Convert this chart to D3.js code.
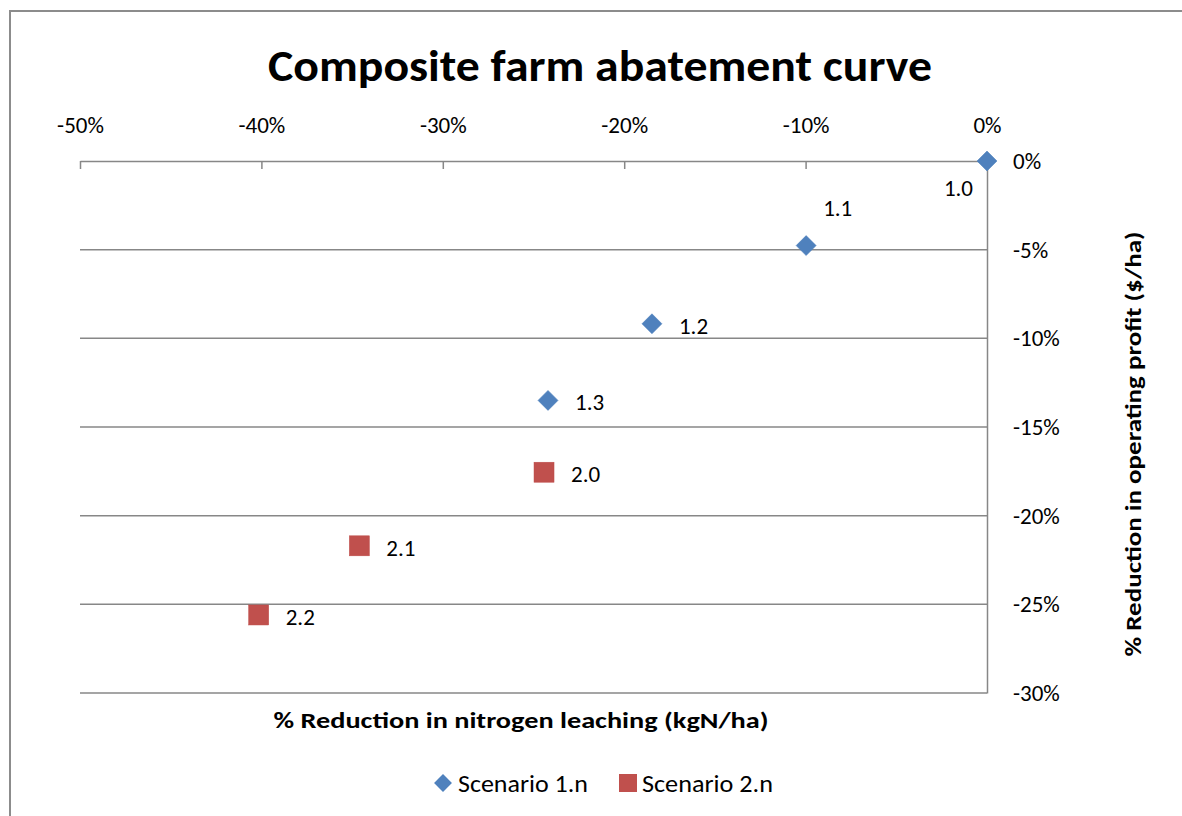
<!DOCTYPE html>
<html>
<head>
<meta charset="utf-8">
<script src="https://cdn.jsdelivr.net/npm/d3@7"></script>
<style>
  html, body { margin: 0; padding: 0; background: #fff; }
  svg { display: block; }
  text { font-family: Carlito, Calibri, Lato, "Open Sans", sans-serif; fill: #000; }
</style>
</head>
<body>
<svg id="chart" width="1182" height="816"></svg>
<script>
// ---- data ----
const chartTitle = "Composite farm abatement curve";
const xAxisTitle = "% Reduction in nitrogen leaching (kgN/ha)";
const yAxisTitle = "% Reduction in operating profit ($/ha)";
const seriesNames = ["Scenario 1.n", "Scenario 2.n"];
const xTicks = [-0.5, -0.4, -0.3, -0.2, -0.1, 0];
const yTicks = [0, -0.05, -0.10, -0.15, -0.20, -0.25, -0.30];

const s1Labels = ["1.0", "1.1", "1.2", "1.3"];
const s1X = [0, -0.0997, -0.1847, -0.2420];
const s1Y = [0, -0.0477, -0.0918, -0.1350];
const s1LabelPlacement = ["belowLeft", "above", "right", "right"];

const s2Labels = ["2.0", "2.1", "2.2"];
const s2X = [-0.2442, -0.3460, -0.4015];
const s2Y = [-0.1755, -0.2170, -0.2560];
const s2LabelPlacement = ["right", "right", "right"];

// ---- layout ----
const svg = d3.select("#chart");
const plotLeft = 80, plotRight = 987, plotTop = 161, plotBottom = 693;
const blue = "#4F81BD", red = "#C0504D", gridCol = "#878787";

const x = d3.scaleLinear().domain([-0.5, 0]).range([plotLeft, plotRight]);
const y = d3.scaleLinear().domain([-0.3, 0]).range([plotBottom, plotTop]);

// outer chart border (top + left visible)
svg.append("path")
  .attr("d", `M10,${816} L10,11 L1182,11`)
  .attr("fill", "none").attr("stroke", "#8c8c8c").attr("stroke-width", 2);

// title
svg.append("text")
  .attr("x", 600).attr("y", 81)
  .attr("text-anchor", "middle")
  .attr("font-size", 45).attr("font-weight", "bold")
  .attr("textLength", 664).attr("lengthAdjust", "spacingAndGlyphs")
  .text(chartTitle);

// gridlines
svg.append("g").selectAll("line")
  .data(yTicks.filter(d => d !== 0))
  .join("line")
  .attr("x1", plotLeft).attr("x2", plotRight)
  .attr("y1", d => y(d)).attr("y2", d => y(d))
  .attr("stroke", gridCol).attr("stroke-width", 1.5);

// percent format with plain hyphen
const pct = d3.format(".0%");
const fmt = d => pct(d).replace("\u2212", "-");

// x axis (at top, y = 0)
const xAxis = svg.append("g")
  .attr("transform", `translate(0,${y(0)})`)
  .call(d3.axisTop(x).tickValues(xTicks).tickFormat(fmt)
        .tickSizeInner(-8).tickSizeOuter(0).tickPadding(28));
xAxis.select(".domain").attr("stroke", gridCol).attr("stroke-width", 1.5);
xAxis.selectAll(".tick line").attr("stroke", gridCol).attr("stroke-width", 1.5);
xAxis.selectAll(".tick text").attr("font-size", 23).attr("fill", "#000")
  .style("font-family", "Carlito, Calibri, Lato, sans-serif");

// y axis (at right, x = 0)
const yAxis = svg.append("g")
  .attr("transform", `translate(${x(0)},0)`)
  .call(d3.axisRight(y).tickValues(yTicks).tickFormat(fmt)
        .tickSize(0).tickPadding(26));
yAxis.select(".domain").attr("stroke", gridCol).attr("stroke-width", 1.5);
yAxis.selectAll(".tick text").attr("font-size", 23).attr("fill", "#000")
  .style("font-family", "Carlito, Calibri, Lato, sans-serif");

// axis titles
svg.append("text")
  .attr("x", 521).attr("y", 728)
  .attr("text-anchor", "middle")
  .attr("font-size", 23).attr("font-weight", "bold")
  .attr("textLength", 495).attr("lengthAdjust", "spacingAndGlyphs")
  .text(xAxisTitle);

svg.append("text")
  .attr("transform", "translate(1141,444) rotate(-90)")
  .attr("text-anchor", "middle")
  .attr("font-size", 23).attr("font-weight", "bold")
  .attr("textLength", 425).attr("lengthAdjust", "spacingAndGlyphs")
  .text(yAxisTitle);

// series points
const s1 = s1X.map((v, i) => ({x: v, y: s1Y[i], label: s1Labels[i], place: s1LabelPlacement[i]}));
const s2 = s2X.map((v, i) => ({x: v, y: s2Y[i], label: s2Labels[i], place: s2LabelPlacement[i]}));

const diamond = d3.symbol().type(d3.symbolSquare).size(200);

svg.append("g").selectAll("path")
  .data(s1).join("path")
  .attr("d", diamond)
  .attr("transform", d => `translate(${x(d.x)},${y(d.y)}) rotate(45)`)
  .attr("fill", blue).attr("stroke", "#4A7EBB").attr("stroke-width", 0.5);

svg.append("g").selectAll("rect")
  .data(s2).join("rect")
  .attr("x", d => x(d.x) - 10).attr("y", d => y(d.y) - 10)
  .attr("width", 20).attr("height", 20)
  .attr("fill", red).attr("stroke", "#BE4B48").attr("stroke-width", 0.5);

// data labels
function labelAttrs(sel) {
  sel.attr("font-size", 23)
    .attr("dominant-baseline", "central")
    .attr("x", d => d.place === "belowLeft" ? x(d.x) - 14 : x(d.x) + (d.place === "above" ? 17 : 27))
    .attr("y", d => d.place === "belowLeft" ? y(d.y) + 27 : (d.place === "above" ? y(d.y) - 38 : y(d.y) + 2))
    .attr("text-anchor", d => d.place === "belowLeft" ? "end" : "start")
    .text(d => d.label);
}
svg.append("g").selectAll("text").data(s1.concat(s2)).join("text").call(labelAttrs);

// legend
const lg = svg.append("g");
lg.append("path").attr("d", d3.symbol().type(d3.symbolSquare).size(160))
  .attr("transform", "translate(443,783) rotate(45)").attr("fill", blue);
lg.append("text").attr("x", 458).attr("y", 783).attr("dominant-baseline", "central")
  .attr("font-size", 24).attr("textLength", 130).attr("lengthAdjust", "spacingAndGlyphs")
  .text(seriesNames[0]);
lg.append("rect").attr("x", 619).attr("y", 774).attr("width", 18).attr("height", 18).attr("fill", red);
lg.append("text").attr("x", 642).attr("y", 783).attr("dominant-baseline", "central")
  .attr("font-size", 24).attr("textLength", 131).attr("lengthAdjust", "spacingAndGlyphs")
  .text(seriesNames[1]);
</script>
</body>
</html>
